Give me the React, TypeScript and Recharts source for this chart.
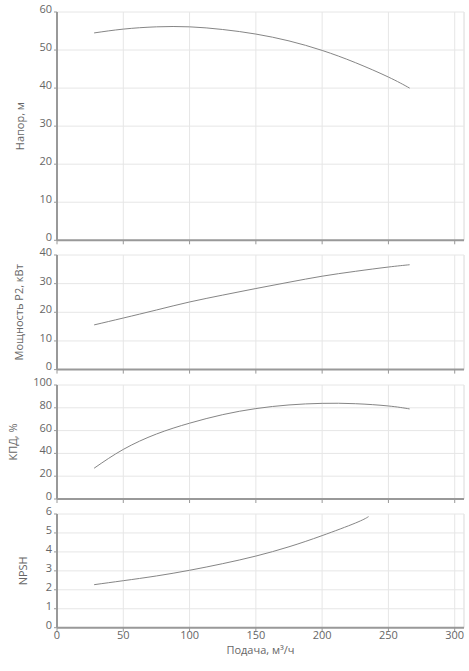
import React from 'react';
import { LineChart, Line, XAxis, YAxis, CartesianGrid, ReferenceLine } from 'recharts';

const flow = [28, 50, 75, 100, 125, 150, 175, 200, 225, 250, 266];
const head = [54.5, 55.5, 56.1, 56.1, 55.4, 54.2, 52.4, 49.9, 46.7, 42.9, 40.0];
const power = [15.6, 18.0, 20.8, 23.6, 26.0, 28.3, 30.5, 32.6, 34.3, 35.8, 36.6];
const efficiency = [27, 43.5, 57, 66.5, 74, 79.3, 82.5, 83.9, 83.6, 81.6, 79];
const npshFlow = [28, 50, 75, 100, 125, 150, 175, 200, 225, 235];
const npsh = [2.27, 2.48, 2.73, 3.03, 3.38, 3.78, 4.27, 4.86, 5.52, 5.86];

const xTicks = [0, 50, 100, 150, 200, 250, 300];
const xMax = 307;
const headTicks = [0, 10, 20, 30, 40, 50, 60];
const powerTicks = [0, 10, 20, 30, 40];
const effTicks = [0, 20, 40, 60, 80, 100];
const npshTicks = [0, 1, 2, 3, 4, 5, 6];

const FONT = '"Open Sans", sans-serif';
const TEXT = '#666666';
const AXIS = '#999999';
const GRID = '#e6e6e6';
const CURVE = '#858585';

type Panel = {
  key: string;
  label: string;
  labelX: number;
  xs: number[];
  ys: number[];
  ticks: number[];
  plotTop: number;
  plotBottom: number;
  bottom: boolean;
};

const panels: Panel[] = [
  { key: 'head', label: 'Напор, м', labelX: 20, xs: flow, ys: head, ticks: headTicks, plotTop: 11.7, plotBottom: 240, bottom: false },
  { key: 'power', label: 'Мощность P2, кВт', labelX: 19, xs: flow, ys: power, ticks: powerTicks, plotTop: 254.7, plotBottom: 369.3, bottom: false },
  { key: 'eff', label: 'КПД, %', labelX: 13.3, xs: flow, ys: efficiency, ticks: effTicks, plotTop: 385, plotBottom: 499, bottom: false },
  { key: 'npsh', label: 'NPSH', labelX: 22.7, xs: npshFlow, ys: npsh, ticks: npshTicks, plotTop: 514, plotBottom: 627.7, bottom: true },
];

const EmptyTick = () => <g />;

function PanelChart({ p }: { p: Panel }) {
  const data = p.xs.map((x, i) => ({ x, y: p.ys[i] }));
  const pad = 10;
  const xAxisH = p.bottom ? 40 : 5;
  const height = p.plotBottom - p.plotTop + pad + xAxisH;
  const yMax = p.ticks[p.ticks.length - 1];
  return (
    <div style={{ position: 'absolute', left: 0, top: p.plotTop - pad, width: 469, height }}>
      <LineChart width={469} height={height} data={data} margin={{ top: pad, right: 5, left: 0, bottom: 0 }}>
        <CartesianGrid stroke={GRID} strokeWidth={1} />
        <ReferenceLine x={xMax} stroke={GRID} strokeWidth={1} ifOverflow="extendDomain" />
        <XAxis
          dataKey="x"
          type="number"
          domain={[0, xMax]}
          ticks={xTicks}
          allowDataOverflow
          height={xAxisH}
          axisLine={{ stroke: AXIS, strokeWidth: 2 }}
          tickLine={{ stroke: AXIS, strokeWidth: 1 }}
          tickSize={4}
          tickMargin={0}
          tick={p.bottom ? { fill: TEXT, fontSize: 11, fontFamily: FONT } : EmptyTick}
          interval={0}
          label={
            p.bottom
              ? { value: 'Подача, м³/ч', position: 'insideBottom', offset: 14, fill: TEXT, fontSize: 11, fontFamily: FONT }
              : undefined
          }
        />
        <YAxis
          type="number"
          domain={[0, yMax]}
          ticks={p.ticks}
          width={57}
          interval={0}
          axisLine={{ stroke: AXIS, strokeWidth: 2 }}
          tickLine={{ stroke: AXIS, strokeWidth: 1 }}
          tickSize={3}
          tickMargin={2}
          tick={{ fill: TEXT, fontSize: 11, fontFamily: FONT, dy: -3 }}
          label={{
            value: p.label,
            angle: -90,
            position: 'insideLeft',
            offset: p.labelX,
            fill: TEXT,
            fontSize: 11,
            fontFamily: FONT,
            style: { textAnchor: 'middle' },
          }}
        />
        <Line
          type="natural"
          dataKey="y"
          stroke={CURVE}
          strokeWidth={1}
          dot={false}
          activeDot={false}
          isAnimationActive={false}
        />
      </LineChart>
    </div>
  );
}

export default function App() {
  return (
    <div style={{ position: 'absolute', left: 0, top: 0, width: 469, height: 671, background: '#fff', fontFamily: FONT }}>
      {panels.map((p) => (
        <PanelChart key={p.key} p={p} />
      ))}
    </div>
  );
}
